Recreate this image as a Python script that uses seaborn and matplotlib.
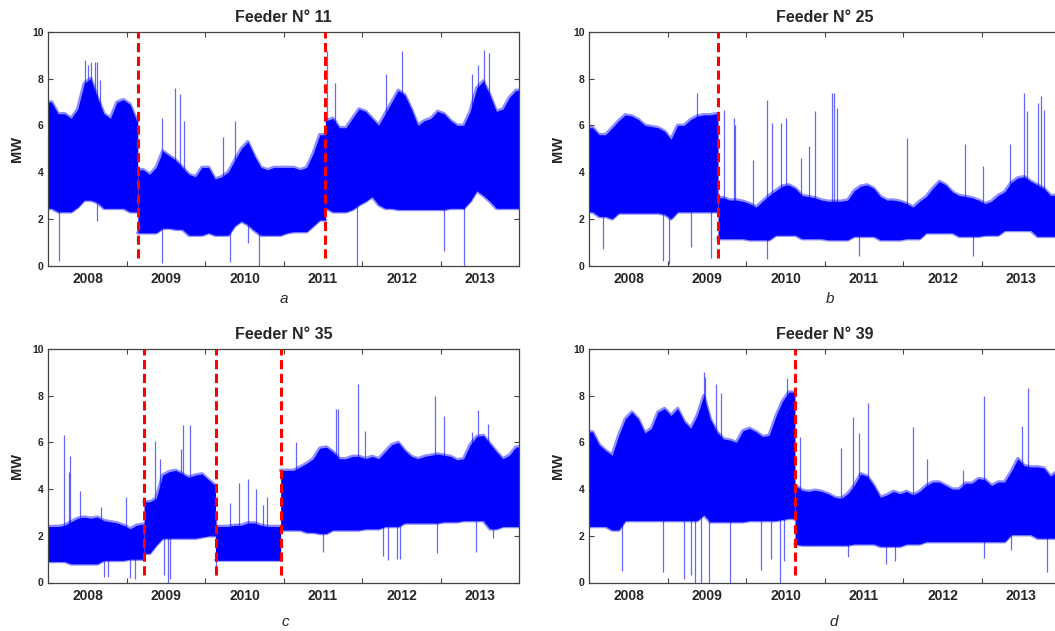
import numpy as np
import pandas as pd
import matplotlib
matplotlib.use("Agg")
import matplotlib.pyplot as plt
import matplotlib.ticker as mticker
import seaborn as sns

# one reading per month, Jan 2008 .. Dec 2013 (band top / band bottom, MW)
years = [2008, 2009, 2010, 2011, 2012, 2013]
month_t = [2008 + (m + 0.5) / 12 for m in range(72)]

hi_11 = [7.0, 6.5, 6.5, 6.3, 6.7, 7.8, 8.0, 7.2, 6.5, 6.3, 7.0, 7.1,
         6.9, 6.2, 4.1, 3.9, 4.2, 4.9, 4.7, 4.5, 4.2, 3.9, 3.8, 4.2,
         4.2, 3.7, 3.8, 4.0, 4.5, 5.0, 5.3, 4.7, 4.2, 4.1, 4.2, 4.2,
         4.2, 4.2, 4.1, 4.2, 4.8, 5.6, 6.2, 6.3, 5.9, 5.9, 6.3, 6.7,
         6.6, 6.3, 6.0, 6.5, 7.0, 7.5, 7.3, 6.7, 6.0, 6.2, 6.3, 6.6,
         6.5, 6.2, 6.0, 6.0, 6.6, 7.6, 7.9, 7.3, 6.6, 6.7, 7.2, 7.5]
lo_11 = [2.45, 2.3, 2.3, 2.3, 2.5, 2.8, 2.8, 2.7, 2.45, 2.45, 2.45, 2.45,
         2.3, 2.3, 1.4, 1.4, 1.4, 1.6, 1.6, 1.55, 1.55, 1.3, 1.3, 1.3,
         1.4, 1.3, 1.3, 1.3, 1.7, 1.9, 1.75, 1.5, 1.3, 1.3, 1.3, 1.3,
         1.4, 1.45, 1.45, 1.45, 1.7, 1.95, 2.45, 2.3, 2.3, 2.3, 2.4, 2.6,
         2.75, 2.95, 2.6, 2.45, 2.45, 2.4, 2.4, 2.4, 2.4, 2.4, 2.4, 2.4,
         2.4, 2.45, 2.45, 2.45, 2.75, 3.2, 3.0, 2.75, 2.45, 2.45, 2.45, 2.45]
breaks_11 = [2009.14, 2011.53]
up_t_11 = [2008.47, 2008.51, 2008.55, 2008.59, 2008.62, 2008.66, 2009.45, 2009.62,
           2009.68, 2009.73, 2010.23, 2010.38, 2011.55, 2011.65, 2012.30, 2012.50,
           2013.40, 2013.48, 2013.55, 2013.61]
up_v_11 = [8.8, 8.6, 8.7, 8.7, 8.7, 7.95, 6.3, 7.6,
           7.35, 6.2, 5.5, 6.2, 9.2, 7.8, 8.2, 9.2,
           8.2, 8.6, 9.25, 9.1]
dn_t_11 = [2008.13, 2008.62, 2009.45, 2010.32, 2010.55, 2010.68, 2011.93, 2013.04, 2013.29]
dn_v_11 = [0.2, 1.9, 0.1, 0.15, 0.95, 0.0, 0.0, 0.6, 0.0]

hi_25 = [5.9, 5.6, 5.6, 5.9, 6.2, 6.45, 6.4, 6.25, 6.0, 5.95, 5.9, 5.75,
         5.4, 6.0, 6.0, 6.25, 6.4, 6.45, 6.45, 6.5, 2.9, 2.8, 2.8, 2.75,
         2.65, 2.5, 2.75, 3.0, 3.2, 3.4, 3.45, 3.3, 3.0, 2.95, 2.9, 2.8,
         2.75, 2.75, 2.75, 2.8, 3.2, 3.4, 3.45, 3.3, 2.95, 2.8, 2.8, 2.75,
         2.65, 2.5, 2.75, 2.95, 3.3, 3.6, 3.45, 3.15, 3.0, 2.95, 2.9, 2.8,
         2.65, 2.75, 3.0, 3.15, 3.55, 3.75, 3.8, 3.6, 3.45, 3.3, 3.0, 3.0]
lo_25 = [2.3, 2.1, 2.1, 2.0, 2.25, 2.25, 2.25, 2.25, 2.25, 2.25, 2.25, 2.2,
         2.0, 2.3, 2.3, 2.3, 2.3, 2.3, 2.3, 2.3, 1.15, 1.15, 1.15, 1.15,
         1.1, 1.1, 1.1, 1.1, 1.3, 1.3, 1.3, 1.3, 1.15, 1.15, 1.15, 1.15,
         1.1, 1.1, 1.1, 1.1, 1.25, 1.25, 1.25, 1.25, 1.1, 1.1, 1.1, 1.1,
         1.15, 1.15, 1.15, 1.4, 1.4, 1.4, 1.4, 1.4, 1.25, 1.25, 1.25, 1.25,
         1.3, 1.3, 1.3, 1.5, 1.5, 1.5, 1.5, 1.5, 1.25, 1.25, 1.25, 1.25]
breaks_25 = [2009.64]
up_t_25 = [2009.37, 2009.71, 2009.84, 2009.86, 2010.08, 2010.27, 2010.33, 2010.44,
           2010.50, 2010.70, 2010.80, 2010.87, 2011.09, 2011.12, 2011.15, 2012.05,
           2012.79, 2013.02, 2013.36, 2013.54, 2013.57, 2013.72, 2013.76, 2013.79]
up_v_25 = [7.4, 6.65, 6.3, 6.0, 4.5, 7.1, 6.1, 6.1,
           6.3, 4.6, 5.1, 6.6, 7.4, 7.4, 6.75, 5.45,
           5.2, 4.25, 5.2, 7.4, 6.6, 6.95, 7.25, 6.65]
dn_t_25 = [2008.17, 2008.94, 2009.02, 2009.30, 2009.55, 2010.27, 2011.43, 2012.89]
dn_v_25 = [0.7, 0.2, 0.05, 0.8, 0.3, 0.27, 0.4, 0.4]

hi_35 = [2.4, 2.4, 2.45, 2.6, 2.75, 2.8, 2.75, 2.8, 2.65, 2.6, 2.55, 2.45,
         2.3, 2.45, 2.5, 3.45, 3.6, 4.6, 4.75, 4.8, 4.65, 4.5, 4.6, 4.65,
         4.4, 4.15, 2.4, 2.4, 2.45, 2.45, 2.55, 2.55, 2.45, 2.4, 2.4, 2.4,
         4.8, 4.8, 4.95, 5.1, 5.3, 5.75, 5.8, 5.6, 5.3, 5.3, 5.4, 5.4,
         5.3, 5.4, 5.3, 5.6, 5.9, 6.0, 5.65, 5.4, 5.3, 5.4, 5.45, 5.5,
         5.45, 5.4, 5.25, 5.3, 5.9, 6.25, 6.3, 5.95, 5.6, 5.3, 5.45, 5.8]
lo_35 = [0.9, 0.9, 0.9, 0.8, 0.8, 0.8, 0.8, 0.8, 0.95, 0.95, 0.95, 0.95,
         1.0, 1.0, 1.0, 1.25, 1.6, 1.9, 1.9, 1.9, 1.9, 1.9, 1.9, 1.95,
         2.0, 2.0, 0.95, 0.95, 0.95, 0.95, 0.95, 0.95, 0.95, 0.95, 0.95, 0.95,
         2.25, 2.25, 2.25, 2.15, 2.15, 2.1, 2.1, 2.25, 2.25, 2.25, 2.25, 2.25,
         2.3, 2.3, 2.3, 2.4, 2.4, 2.4, 2.55, 2.55, 2.55, 2.55, 2.55, 2.55,
         2.6, 2.6, 2.6, 2.65, 2.65, 2.65, 2.65, 2.3, 2.3, 2.4, 2.4, 2.4]
breaks_35 = [2009.22, 2010.13, 2010.96]
up_t_35 = [2008.20, 2008.26, 2008.28, 2008.40, 2008.67, 2008.99, 2009.36, 2009.42,
           2009.69, 2009.71, 2009.80, 2010.31, 2010.43, 2010.55, 2010.65, 2010.74,
           2010.78, 2011.15, 2011.67, 2011.69, 2011.95, 2012.03, 2012.93, 2013.04,
           2013.40, 2013.48, 2013.60]
up_v_35 = [6.3, 4.75, 5.4, 3.9, 3.25, 3.65, 6.05, 5.3,
           5.7, 6.75, 6.75, 3.4, 4.25, 4.45, 4.0, 3.3,
           3.65, 6.0, 7.45, 7.45, 8.5, 6.5, 8.0, 7.15,
           6.45, 7.4, 6.8]
dn_t_35 = [2008.71, 2008.76, 2009.04, 2009.10, 2009.48, 2009.53, 2009.55, 2010.14,
           2011.50, 2012.27, 2012.33, 2012.44, 2012.48, 2012.95, 2013.45, 2013.67]
dn_v_35 = [0.25, 0.25, 0.2, 0.15, 0.3, 0.0, 0.15, 0.3,
           1.3, 1.15, 0.95, 1.0, 1.0, 1.25, 1.3, 1.9]

hi_39 = [6.45, 5.9, 5.65, 5.45, 6.3, 7.0, 7.3, 7.0, 6.4, 6.6, 7.3, 7.45,
         7.15, 7.45, 6.9, 6.6, 7.15, 8.0, 7.0, 6.45, 6.15, 6.1, 6.0, 6.5,
         6.6, 6.45, 6.25, 6.3, 7.1, 7.75, 8.15, 4.15, 3.95, 3.9, 3.95, 3.9,
         3.8, 3.65, 3.6, 3.8, 4.15, 4.65, 4.55, 4.15, 3.65, 3.75, 3.9, 3.8,
         3.9, 3.75, 3.9, 4.15, 4.3, 4.3, 4.15, 4.0, 4.0, 4.25, 4.25, 4.45,
         4.4, 4.15, 4.3, 4.3, 4.75, 5.3, 5.0, 4.95, 4.95, 4.9, 4.55, 4.75]
lo_39 = [2.4, 2.4, 2.4, 2.25, 2.25, 2.65, 2.65, 2.65, 2.65, 2.65, 2.65, 2.65,
         2.65, 2.65, 2.65, 2.65, 2.65, 2.9, 2.6, 2.6, 2.6, 2.6, 2.6, 2.6,
         2.65, 2.65, 2.65, 2.65, 2.65, 2.7, 2.75, 1.65, 1.6, 1.6, 1.6, 1.6,
         1.6, 1.6, 1.6, 1.6, 1.65, 1.65, 1.65, 1.65, 1.55, 1.55, 1.55, 1.55,
         1.65, 1.65, 1.65, 1.75, 1.75, 1.75, 1.75, 1.75, 1.75, 1.75, 1.75, 1.75,
         1.75, 1.75, 1.75, 1.75, 2.05, 2.05, 2.05, 2.05, 1.9, 1.9, 1.9, 1.9]
breaks_39 = [2010.62]
up_t_39 = [2009.46, 2009.48, 2009.62, 2009.68, 2010.52, 2010.69, 2011.20, 2011.36,
           2011.43, 2011.55, 2012.12, 2012.30, 2012.76, 2013.03, 2013.51, 2013.59]
up_v_39 = [9.0, 8.8, 8.5, 8.1, 8.75, 6.25, 5.75, 7.1,
           6.4, 7.7, 6.65, 5.3, 4.8, 8.0, 6.7, 8.35]
dn_t_39 = [2008.42, 2008.94, 2009.20, 2009.29, 2009.35, 2009.42, 2009.52, 2009.79,
           2010.19, 2010.31, 2010.43, 2010.48, 2011.30, 2011.78, 2011.89, 2013.03,
           2013.37, 2013.83]
dn_v_39 = [0.5, 0.45, 0.15, 0.3, 0.0, 0.0, 0.0, 0.0,
           0.55, 1.0, 0.0, 0.9, 1.1, 0.8, 0.9, 1.05,
           1.4, 0.45]

BLUE = "#0000ff"
FRAME = "#444444"


def draw_feeder(ax, hi, lo, breaks, up_t, up_v, dn_t, dn_v, title):
    df = pd.DataFrame({"t": month_t, "hi": hi, "lo": lo})
    mid = (df.hi + df.lo) / 2

    # thin spikes and drop-outs, drawn under the band
    base_up = np.interp(up_t, df.t, mid)
    base_dn = np.interp(dn_t, df.t, mid)
    ax.vlines(up_t, base_up, up_v, colors=BLUE, lw=0.9, alpha=0.6, zorder=1)
    ax.vlines(dn_t, dn_v, base_dn, colors=BLUE, lw=0.9, alpha=0.6, zorder=1)

    # the dense load band, one piece between each pair of change points
    edges = [2008.0] + breaks + [2014.0]
    for a, b in zip(edges[:-1], edges[1:]):
        seg = df[(df.t > a) & (df.t < b)]
        t = np.r_[a, seg.t, b]
        h = np.r_[seg.hi.iloc[0], seg.hi, seg.hi.iloc[-1]]
        l = np.r_[seg.lo.iloc[0], seg.lo, seg.lo.iloc[-1]]
        ax.fill_between(t, l, h, color=BLUE, lw=0, zorder=2)
        # soft lighter fringe along the edges, like the overplotted daily peaks
        sns.lineplot(x=t, y=h, ax=ax, color=BLUE, lw=2.6, alpha=0.45,
                     estimator=None, zorder=1.5)
        sns.lineplot(x=t, y=l, ax=ax, color=BLUE, lw=2.6, alpha=0.45,
                     estimator=None, zorder=1.5)

    ax.vlines(breaks, 0.3, 10, colors="#ff0000", lw=2.2,
              linestyles=(0, (3, 1.5)), zorder=3)

    ax.set_xlim(2008, 2014)
    ax.set_ylim(0, 10)
    ax.xaxis.set_major_locator(mticker.FixedLocator(years[1:]))
    ax.xaxis.set_major_formatter(mticker.NullFormatter())
    ax.xaxis.set_minor_locator(mticker.FixedLocator([y + 0.5 for y in years]))
    ax.xaxis.set_minor_formatter(mticker.FixedFormatter([str(y) for y in years]))
    ax.set_yticks(range(0, 11, 2))
    ax.tick_params(which="major", direction="in", length=3.5, width=0.8,
                   top=True, right=True, color=FRAME, labelsize=7.5)
    ax.tick_params(axis="x", which="minor", length=0, pad=5, labelsize=10)
    for lab in ax.get_xticklabels(minor=True) + ax.get_yticklabels():
        lab.set_fontweight("bold")
    for sp in ax.spines.values():
        sp.set_color(FRAME)
        sp.set_linewidth(0.9)
    ax.set_xlabel("")
    ax.set_ylabel("MW", fontweight="bold", fontsize=10.5, labelpad=6)
    ax.set_title(title, fontweight="bold", fontsize=11.5, pad=7)


sns.set_style("ticks")
plt.rcParams["font.family"] = ["Liberation Sans", "DejaVu Sans"]

fig = plt.figure(figsize=(10.55, 6.31), dpi=100)
W, H = 1055, 631
pos = {
    "a": [48.3 / W, 1 - 265.5 / H, 471 / W, 233.5 / H],
    "b": [589.3 / W, 1 - 265.5 / H, 471 / W, 233.5 / H],
    "c": [48.3 / W, 1 - 582.5 / H, 471 / W, 233.5 / H],
    "d": [589.3 / W, 1 - 582.5 / H, 471 / W, 233.5 / H],
}

panels = [
    ("a", hi_11, lo_11, breaks_11, up_t_11, up_v_11, dn_t_11, dn_v_11, "Feeder N° 11"),
    ("b", hi_25, lo_25, breaks_25, up_t_25, up_v_25, dn_t_25, dn_v_25, "Feeder N° 25"),
    ("c", hi_35, lo_35, breaks_35, up_t_35, up_v_35, dn_t_35, dn_v_35, "Feeder N° 35"),
    ("d", hi_39, lo_39, breaks_39, up_t_39, up_v_39, dn_t_39, dn_v_39, "Feeder N° 39"),
]
letter_xy = {"a": (283.5, 299), "b": (830, 299), "c": (285, 622), "d": (834, 622)}

for key, hi, lo, br, ut, uv, dt, dv, title in panels:
    ax = fig.add_axes(pos[key])
    draw_feeder(ax, hi, lo, br, ut, uv, dt, dv, title)
    lx, ly = letter_xy[key]
    fig.text(lx / W, 1 - ly / H, key, style="italic", fontsize=11,
             ha="center", va="center")

fig.savefig("out.png", dpi=100)
